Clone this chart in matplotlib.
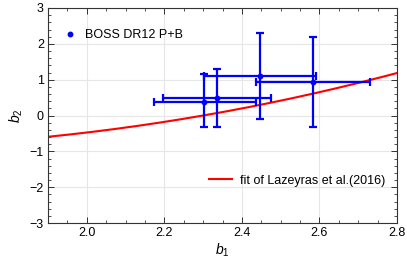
import numpy as np
import matplotlib
matplotlib.use("Agg")
import matplotlib.pyplot as plt
from matplotlib.ticker import MultipleLocator
from matplotlib.lines import Line2D

plt.rcParams['font.family'] = ['Liberation Sans', 'DejaVu Sans']
plt.rcParams['mathtext.fontset'] = 'custom'
plt.rcParams['mathtext.it'] = 'Liberation Sans:italic'
plt.rcParams['mathtext.rm'] = 'Liberation Sans'

# Data (BOSS DR12 P+B measurements)
b1 = [2.302, 2.337, 2.446, 2.583]
b2 = [0.385, 0.48, 1.11, 0.936]
b1_lo = [0.129, 0.141, 0.144, 0.146]
b1_hi = [0.134, 0.138, 0.145, 0.148]
b2_lo = [0.715, 0.80, 1.21, 1.256]
b2_hi = [0.785, 0.82, 1.19, 1.254]

# Lazeyras et al. (2016) fit coefficients (b2 = sum c_k b1^k), with tidal shift
lazeyras_coef = [0.412, -2.143, 0.929, 0.008]
tidal_shift = 8.0 / 21.0

fig = plt.figure(figsize=(4.07, 2.71), dpi=100)
ax = fig.add_axes([48/407, 1-223/271, (397-48)/407, (223-8)/271])

xs = np.linspace(1.9, 2.8, 300)
ys = sum(c * xs**k for k, c in enumerate(lazeyras_coef)) - tidal_shift * (xs - 1)
ax.plot(xs, ys, color='#ff0000', lw=1.5, zorder=2)

ax.errorbar(b1, b2, xerr=[b1_lo, b1_hi], yerr=[b2_lo, b2_hi], fmt='o', color='#0000ff',
            ms=3.2, lw=1.6, capsize=3, capthick=1.6, zorder=3)

ax.set_xlim(1.9, 2.8)
ax.set_ylim(-3, 3)
ax.xaxis.set_major_locator(MultipleLocator(0.2))
ax.xaxis.set_minor_locator(MultipleLocator(0.05))
ax.yaxis.set_major_locator(MultipleLocator(1))
ax.yaxis.set_minor_locator(MultipleLocator(0.2))
ax.set_xticks([2.0, 2.2, 2.4, 2.6, 2.8])
ax.set_xticklabels(['2.0', '2.2', '2.4', '2.6', '2.8'])
ax.set_yticks([-3, -2, -1, 0, 1, 2, 3])
ax.set_yticklabels(['\u22123', '\u22122', '\u22121', '0', '1', '2', '3'])
ax.tick_params(which='both', direction='in', top=True, right=True, labelsize=9, color='#333333')
ax.tick_params(which='major', length=4, width=0.7, pad=3)
ax.tick_params(which='minor', length=2, width=0.6)
ax.grid(True, which='major', color='#e6e6e6', lw=0.8, zorder=0)
ax.set_axisbelow(True)
for s in ax.spines.values():
    s.set_color('#333333')
    s.set_linewidth(0.8)

ax.set_xlabel('$b_1$', fontsize=10, labelpad=2)
ax.set_ylabel('$b_2$', fontsize=10, labelpad=3)

h1 = Line2D([], [], marker='o', color='#0000ff', ls='none', ms=3.2)
leg1 = ax.legend([h1], ['BOSS DR12 P+B'], loc='upper left', bbox_to_anchor=(0.02, 0.93),
                 frameon=False, fontsize=9, handlelength=1.4, handletextpad=0.5, borderpad=0)
ax.add_artist(leg1)
h2 = Line2D([], [], color='#ff0000', lw=1.5)
ax.legend([h2], ['fit of Lazeyras et al.(2016)'], loc='lower right', bbox_to_anchor=(0.985, 0.14),
          frameon=False, fontsize=9, handlelength=1.8, handletextpad=0.7, borderpad=0)

fig.savefig('out.png', dpi=100)
